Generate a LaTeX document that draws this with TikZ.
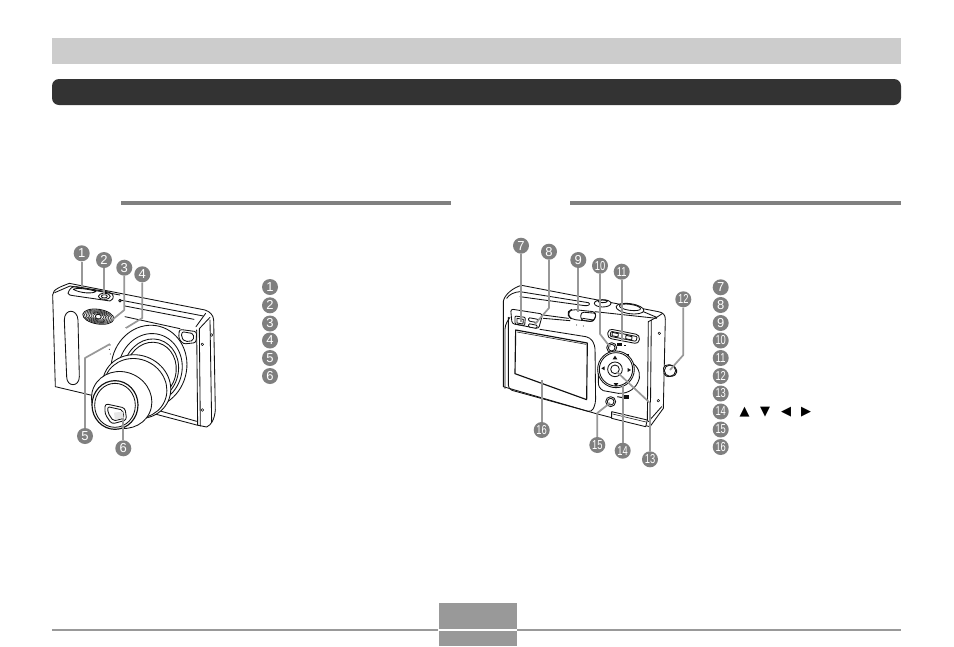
\documentclass[tikz,border=0pt]{standalone}
\usepackage{graphicx}
\usepackage{fontspec}
\setmainfont{Liberation Sans}
\newfontfamily\symfont{DejaVu Sans}
\definecolor{band}{HTML}{CCCCCC}
\definecolor{darkband}{HTML}{333333}
\definecolor{rulegray}{HTML}{808080}
\definecolor{footgray}{HTML}{999999}
\definecolor{badgegray}{HTML}{7F7F7F}
\definecolor{leadgray}{HTML}{989898}
\definecolor{inkc}{HTML}{111111}
\tikzset{
  badge/.style={circle,fill=badgegray,text=white,minimum size=16pt,inner sep=0pt,font=\fontsize{13}{13}\selectfont},
  lead/.style={draw=leadgray,line width=1.7pt,line join=round},
  cam/.style={draw=inkc,line width=.85pt,line join=round,line cap=round},
  heavy/.style={draw=inkc,line width=1.15pt,line join=round,line cap=round},
  fine/.style={draw=inkc,line width=.55pt,line join=round,line cap=round},
  solidw/.style={cam,fill=white},
  arrowsym/.style={inner sep=0pt,font=\symfont\fontsize{13}{13}\selectfont}
}
\newcommand{\dd}[1]{\scalebox{.72}[1]{#1}}
\begin{document}
\begin{tikzpicture}[x=1pt,y=-1pt]
\useasboundingbox (0,0) rectangle (954,646);
\fill[white] (0,0) rectangle (954,646);
% page furniture
\fill[band] (52,38) rectangle (901,64);
\fill[darkband,rounded corners=7pt] (52,79) rectangle (901,105);
\fill[rulegray] (121,201) rectangle (451,205);
\fill[rulegray] (570,201) rectangle (901,205);
\fill[footgray] (52,629) rectangle (438,631);
\fill[footgray] (517,629) rectangle (901,631);
\fill[footgray] (439,603) rectangle (517,629);
\fill[footgray] (439,631) rectangle (517,646);

% ---------------- FRONT CAMERA (zoom coordinates: 1/3 px) ----------------
\begin{scope}[x=.33333pt,y=-.33333pt,shift={(120,690)}]
  % body
  \draw[solidw] (46,470) -- (38,195) .. controls (38,178) and (62,170) .. (88,160)
     -- (495,240) .. controls (510,245) and (520,255) .. (521,270)
     -- (526,540) .. controls (524,565) and (515,585) .. (500,591)
     -- (470,585) -- (345,552) -- (160,497) -- cycle;
  % top plate
  \draw[cam] (44,188) -- (90,168) -- (240,195);
  \draw[cam] (240,210) -- (490,258);
  \draw[cam] (255,228) -- (462,268);
  \draw[cam] (255,260) -- (420,296);
  \draw[cam] (240,212) circle [radius=4];
  % shutter recess
  \draw[cam] (84,190) .. controls (88,175) and (98,168) .. (110,170) -- (205,186)
     .. controls (222,190) and (226,206) .. (210,213) -- (100,197) .. controls (92,196) and (85,195) .. (84,190) -- cycle;
  \draw[solidw] (100,178) .. controls (110,172) and (150,178) .. (168,184) .. controls (160,192) and (120,190) .. (100,178) -- cycle;
  \draw[solidw] (193,199) ellipse [x radius=18,y radius=9];
  \draw[cam] (193,199) ellipse [x radius=9,y radius=5];
  % right side
  \draw[cam] (470,300) -- (473,585);
  \draw[cam] (478,296) -- (481,588);
  \draw[cam] (510,270) -- (515,578);
  \draw[cam] (468,290) -- (497,250);
  \draw[cam] (478,296) -- (510,262);
  \draw[fine] (487,343) circle [radius=4];
  \draw[fine] (487,540) circle [radius=4];
  \draw[fine] (515,315) circle [radius=4];
  \draw[cam] (470,574) -- (350,540);
  % grip
  \draw[cam] (73,270) .. controls (73,235) and (112,235) .. (114,270) -- (118,440)
     .. controls (118,472) and (80,472) .. (80,440) -- cycle;
  % flash
  \draw[solidw,rotate around={-9:(175,260)}] (175,260) ellipse [x radius=47,y radius=22];
  \foreach \r in {42,37,32,27,22,17}{
    \draw[fine,rotate around={-9:(175,260)}] (175,260) ellipse [x radius=\r,y radius=\r*.46];
  }
  \draw[cam,rotate around={-9:(175,260)}] (175,260) ellipse [x radius=9,y radius=7];
  % front window
  \draw[cam,rounded corners=2.5pt] (418,298) -- (470,305) -- (468,338) -- (430,342) -- (416,325) -- cycle;
  \draw[cam,rounded corners=2pt] (426,305) -- (461,311) -- (460,332) -- (435,335) -- (424,322) -- cycle;
  % lens rings
  \draw[solidw,rotate around={-15:(327,410)}] (327,410) ellipse [x radius=113,y radius=125];
  \draw[cam,rotate around={-15:(331,416)}] (331,416) ellipse [x radius=95,y radius=106];
  \draw[cam,rotate around={-15:(333,420)}] (333,420) ellipse [x radius=82,y radius=94];
  \draw[cam,rotate around={-15:(333,422)}] (333,422) ellipse [x radius=75,y radius=86];
  % middle barrel
  \draw[solidw,rotate around={-25:(290,470)}] (290,470) ellipse [x radius=104,y radius=94];
  \draw[cam,rotate around={-25:(286,475)}] (286,475) ellipse [x radius=96,y radius=88];
  % front barrel
  \draw[solidw,rotate around={-25:(245,510)}] (245,510) ellipse [x radius=92,y radius=84];
  \draw[solidw,heavy] (225,525) ellipse [x radius=69,y radius=73];
  \draw[cam] (225,526) ellipse [x radius=61,y radius=66];
  % lens window
  \draw[solidw,rounded corners=3pt] (195,521) -- (255,534) -- (260,570) -- (215,582) -- (195,552) -- cycle;
  \draw[cam,rounded corners=2pt] (203,530) -- (248,540) -- (252,565) -- (220,573) -- (204,549) -- cycle;
  \fill[black!10] (222,548) -- (248,545) -- (251,563) -- (225,570) -- cycle;
  % mic dots
  \foreach \p in {(258,293),(210,345),(208,358),(211,372)}{\fill[inkc] \p circle [radius=1.6];}
\end{scope}

% ---------------- REAR CAMERA ----------------
\begin{scope}[x=.33333pt,y=-.33333pt,shift={(1440,690)}]
  % body
  \draw[solidw] (70,470) -- (70,215) .. controls (72,195) and (100,172) .. (125,166)
     -- (535,245) .. controls (550,248) and (556,255) .. (556,268)
     -- (550,535) -- (510,590) -- (395,563) -- (345,550) -- cycle;
  % top plate
  \draw[cam] (80,205) .. controls (88,192) and (105,186) .. (120,185) -- (325,218) .. controls (332,222) and (328,228) .. (315,227) -- (120,200);
  \draw[cam] (190,255) -- (265,265);
  \draw[cam] (190,265) -- (270,272);
  \draw[cam] (345,245) -- (530,265);
  \draw[cam] (490,245) -- (530,262) -- (505,275);
  \draw[cam] (530,262) -- (548,250);
  \draw[solidw] (368,220) ellipse [x radius=25,y radius=11];
  \draw[cam] (368,214) ellipse [x radius=14,y radius=4];
  \draw[solidw,rotate around={-8:(450,236)}] (450,236) ellipse [x radius=42,y radius=15];
  \draw[cam,rotate around={-8:(450,232)}] (450,232) ellipse [x radius=32,y radius=9];
  % right side
  \draw[cam] (505,275) -- (502,572);
  \draw[cam] (514,270) -- (511,580);
  \draw[fine] (538,310) circle [radius=4];
  \draw[fine] (535,512) circle [radius=4];
  \draw[cam] (545,530) -- (505,575);
  % strap pin
  \draw[solidw,rounded corners=2pt] (550,408) -- (572,403) -- (590,415) -- (590,433) -- (572,441) -- (553,437) -- cycle;
  \draw[cam] (570,422) circle [radius=17];
  % LCD surround
  \draw[cam,rounded corners=4pt] (75,475) -- (75,285) -- (90,262);
  \draw[cam,rounded corners=4pt] (85,262) -- (85,478) -- (335,547) -- (347,520) -- (345,345) -- (330,322) -- (180,298);
  % viewfinder panel
  \draw[solidw,rounded corners=2.5pt] (92,237) -- (188,252) -- (176,296) -- (96,281) -- cycle;
  \draw[solidw,rounded corners=1pt] (105,258) -- (136,262) -- (134,287) -- (105,282) -- cycle;
  \draw[cam] (111,265) -- (130,268) -- (129,282) -- (111,279) -- cycle;
  \draw[solidw,rounded corners=1pt] (146,263) -- (174,268) -- (172,278) -- (146,273) -- cycle;
  \draw[solidw,rounded corners=1pt] (146,281) -- (172,286) -- (170,295) -- (146,291) -- cycle;
  % screen
  \draw[solidw,heavy] (107,300) -- (322,339) -- (320,509) -- (105,431) -- cycle;
  \draw[fine] (111,306) -- (318,343);
  % mode switch
  \draw[solidw,rounded corners=4pt] (265,245) -- (275,238) -- (350,246) -- (342,275) -- (275,268) -- (265,258) -- cycle;
  \draw[cam,rounded corners=3pt] (303,246) -- (350,250) -- (340,276) -- (302,270) -- cycle;
  \draw[cam] (308,265) -- (340,270);
  \fill[inkc] (290,285) circle [radius=1.6] (310,288) circle [radius=1.6];
  % zoom buttons
  \draw[solidw,rounded corners=4pt] (385,296) -- (480,315) -- (476,342) -- (382,324) -- cycle;
  \draw[cam,rounded corners=1pt] (393,304) -- (472,320) -- (468,334) -- (390,319) -- cycle;
  \draw[cam] (397,307) -- (415,311) -- (414,321) -- (396,317) -- cycle;
  \draw[cam] (438,316) -- (456,320) -- (455,330) -- (437,326) -- cycle;
  \fill[inkc] (412,338) rectangle (426,348);
  \fill[inkc] (432,344) rectangle (438,348);
  % button above pad
  \draw[solidw] (395,353) circle [radius=15];
  \draw[cam] (395,353) circle [radius=10];
  \draw[line width=1pt,inkc] (410,378) -- (428,381);
  \fill[inkc] (432,372) rectangle (448,384);
  \fill[white] (437,376) rectangle (444,381);
  % pad surround
  \draw[solidw] (355,410) .. controls (357,390) and (375,378) .. (392,378) -- (440,390)
     .. controls (470,400) and (482,425) .. (478,445) .. controls (470,475) and (445,492) .. (415,490)
     -- (370,482) .. controls (358,475) and (355,468) .. (355,455) -- cycle;
  \draw[solidw] (408,418) circle [radius=55];
  \draw[cam] (408,418) circle [radius=50];
  \draw[solidw] (405,418) circle [radius=22];
  \draw[cam] (405,418) circle [radius=13];
  \fill[inkc] (405,377) -- (412,388) -- (398,388) -- cycle;
  \fill[inkc] (408,470) -- (415,459) -- (401,459) -- cycle;
  \fill[inkc] (364,415) -- (374,409) -- (374,421) -- cycle;
  \fill[inkc] (453,420) -- (443,414) -- (443,426) -- cycle;
  % button under pad
  \draw[solidw] (392,515) circle [radius=15];
  \draw[cam] (392,515) circle [radius=10];
  \draw[line width=1pt,inkc] (412,500) -- (428,503);
  \fill[inkc] (432,496) rectangle (446,508);
  % port door
  \draw[solidw] (395,545) -- (502,570) -- (497,590) -- (395,565) -- cycle;
  \draw[fine] (398,552) -- (498,576);
\end{scope}

% ---------------- CALLOUTS ----------------
\node[badge] (f1) at (81.7,253.3) {1};
\node[badge] (f2) at (104,260) {2};
\node[badge] (f3) at (124.3,267.7) {3};
\node[badge] (f4) at (142.3,274.3) {4};
\node[badge] (f5) at (85,436) {5};
\node[badge] (f6) at (123.3,448.3) {6};
\node[badge] (r7) at (521,245.7) {7};
\node[badge] (r8) at (549,251.7) {8};
\node[badge] (r9) at (578.3,260) {9};
\node[badge] (r10) at (600,265.7) {\dd{10}};
\node[badge] (r11) at (621.7,271.7) {\dd{11}};
\node[badge] (r12) at (683.3,299.3) {\dd{12}};
\node[badge] (r13) at (650,459.3) {\dd{13}};
\node[badge] (r14) at (622.7,450.7) {\dd{14}};
\node[badge] (r15) at (597.3,445) {\dd{15}};
\node[badge] (r16) at (541.7,430) {\dd{16}};

\coordinate (ef1) at (81.7,287);
\coordinate (ef2) at (104,295);
\coordinate (kf3) at (124.3,310);
\coordinate (ef3) at (112,320);
\coordinate (kf4) at (142.3,318);
\coordinate (ef4) at (126,328);
\coordinate (kf5) at (85,358);
\coordinate (ef5) at (110,344);
\coordinate (ef6) at (123.3,418);
\coordinate (er7) at (521,322);
\coordinate (kr8) at (549,308);
\coordinate (er8) at (535,324);
\coordinate (er9) at (578.3,312);
\coordinate (kr10) at (600,334);
\coordinate (er10) at (610,347);
\coordinate (er11) at (621.7,341);
\coordinate (kr12) at (683.3,355);
\coordinate (er12) at (670,370);
\coordinate (kr13) at (650,403);
\coordinate (er13) at (617,372);
\coordinate (er14) at (622.7,385);
\coordinate (kr15) at (597.3,413);
\coordinate (er15) at (610,403);
\coordinate (er16) at (541.7,380);

\draw[lead] (f1) -- (ef1);
\draw[lead] (f2) -- (ef2);
\draw[lead] (f3) -- (kf3) -- (ef3);
\draw[lead] (f4) -- (kf4) -- (ef4);
\draw[lead] (f5) -- (kf5) -- (ef5);
\draw[lead] (f6) -- (ef6);
\draw[lead] (r7) -- (er7);
\draw[lead] (r8) -- (kr8) -- (er8);
\draw[lead] (r9) -- (er9);
\draw[lead] (r10) -- (kr10) -- (er10);
\draw[lead] (r11) -- (er11);
\draw[lead] (r12) -- (kr12) -- (er12);
\draw[lead] (r13) -- (kr13) -- (er13);
\draw[lead] (r14) -- (er14);
\draw[lead] (r15) -- (kr15) -- (er15);
\draw[lead] (r16) -- (er16);

% legend badges
\node[badge] (l1) at (270,287) {1};
\node[badge] (l2) at (270,305.3) {2};
\node[badge] (l3) at (270,323.5) {3};
\node[badge] (l4) at (270,340.5) {4};
\node[badge] (l5) at (270,358) {5};
\node[badge] (l6) at (270,376) {6};
\node[badge] (l7) at (720.7,287.3) {7};
\node[badge] (l8) at (720.7,305) {8};
\node[badge] (l9) at (720.7,323) {9};
\node[badge] (l10) at (720.7,340.5) {\dd{10}};
\node[badge] (l11) at (720.7,358) {\dd{11}};
\node[badge] (l12) at (720.7,376) {\dd{12}};
\node[badge] (l13) at (720.7,393.5) {\dd{13}};
\node[badge] (l14) at (720.7,411.5) {\dd{14}};
\node[badge] (l15) at (720.7,429.5) {\dd{15}};
\node[badge] (l16) at (720.7,447) {\dd{16}};
\node[arrowsym] (au) at (744.5,412) {▲};
\node[arrowsym] (ad) at (765,412) {▼};
\node[arrowsym] (al) at (786,412) {◀};
\node[arrowsym] (ar) at (806,412) {▶};
\end{tikzpicture}
\end{document}
